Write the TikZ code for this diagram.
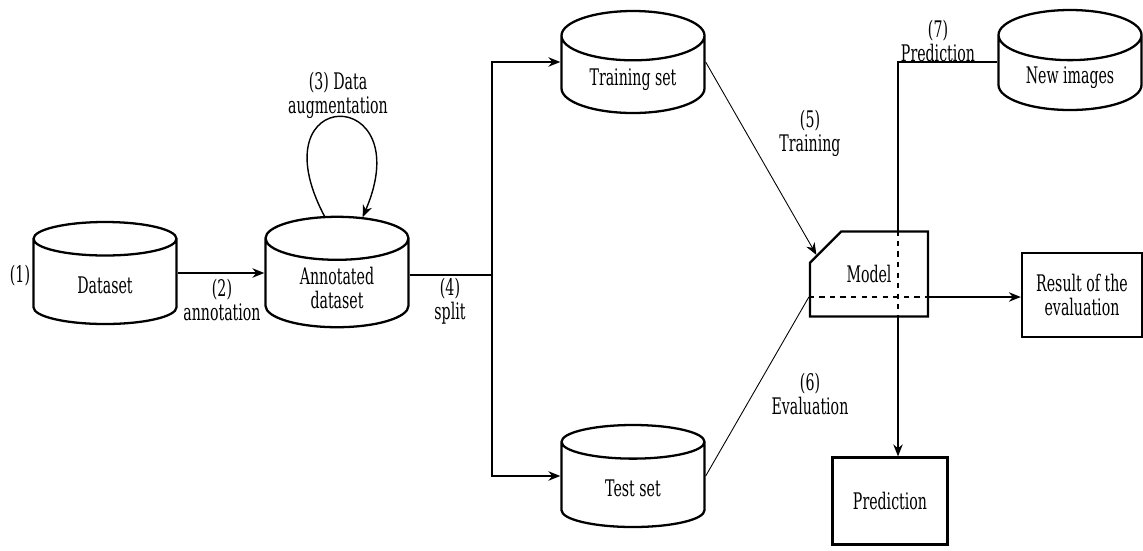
\documentclass[tikz,border=0pt]{standalone}
\usepackage{fontspec}
\setmainfont{DejaVu Serif}[FakeStretch=0.62]
\usetikzlibrary{shapes.geometric,shapes.misc,arrows.meta}

\tikzset{
  db/.style={draw,cylinder,shape border rotate=90,aspect=0.5,line width=1.3pt,minimum width=2.86cm,minimum height=2.04cm,align=center,anchor=shape center},
  box/.style={draw,rectangle,line width=1.3pt,align=center},
  lbl/.style={align=center},
  link/.style={line width=0.8pt},
  thinlink/.style={line width=0.5pt}
}

\begin{document}
\begin{tikzpicture}[x=0.2mm,y=-0.2mm,font=\fontsize{13}{13.6}\selectfont,>={Stealth[length=2.4mm,width=1.9mm]}]
        \useasboundingbox (0,0) rectangle (1143,550);
        \coordinate (c_data) at (105,273);
        \coordinate (c_annot) at (337,272);
        \coordinate (c_train) at (633,62);
        \coordinate (c_test) at (633,476);
        \coordinate (c_new) at (1070,60);
        \coordinate (c_model) at (869,274);
        \coordinate (c_result) at (1082,295);
        \coordinate (c_pred) at (890,501);
        \node[db] (data) at (c_data){Dataset};
        \node[db] (annot) at (c_annot){Annotated\\dataset};
        \node[db] (train) at (c_train){Training set};
        \node[db] (test) at (c_test){Test set};
        \node[db,minimum height=1.94cm] (newimg) at (c_new){New images};
        \node[draw,chamfered rectangle,chamfered rectangle corners=north west,chamfered rectangle xsep=0.46cm,chamfered rectangle ysep=0.6cm,line width=1.3pt,minimum width=2.36cm,minimum height=1.7cm,inner sep=0pt] (model) at (c_model){Model};
        \node[box,minimum width=2.4cm,minimum height=1.68cm] (result) at (c_result){Result of the\\evaluation};
        \node[box,minimum width=2.3cm,minimum height=1.74cm] (pred) at (c_pred){Prediction};
        % helper points
        \coordinate (sp) at (492,275);
        \coordinate (v) at (898,62);
        \coordinate (h) at (869,297);
        % connectors
        \draw[link,->] (data.east |- data.shape center) -- (annot.west |- data.shape center);
        \draw[link,->] (annot.100) .. controls (255,84) and (420,84) .. (annot.70);
        \draw[link] (annot.east |- sp) -- (sp);
        \draw[link,->] (sp) |- (train.west |- train.shape center);
        \draw[link,->] (sp) |- (test.west |- test.shape center);
        \draw[thinlink,->] (train.east |- train.shape center) -- (model.160);
        \draw[thinlink] (test.east |- test.shape center) -- (model.west |- h);
        \draw[link,dashed] (model.west |- h) -- (model.east |- h);
        \draw[link,->] (model.east |- h) -- (result.west |- h);
        \draw[link] (newimg.west |- v) -- (v) -- (model.north -| v);
        \draw[link,dashed] (model.north -| v) -- (model.south -| v);
        \draw[link,->] (model.south -| v) -- (pred.north -| v);
        % labels
        \node[lbl] (l1) at (20,276){(1)};
        \node[lbl] (l2) at (222,300){(2)\\annotation};
        \node[lbl] (l3) at (338,95){(3) Data\\augmentation};
        \node[lbl] (l4) at (450,301){(4)\\split};
        \node[lbl] (l5) at (810,133){(5)\\Training};
        \node[lbl] (l6) at (810,394){(6)\\Evaluation};
        \node[lbl] (l7) at (938,41){(7)\\Prediction};
    \end{tikzpicture}
\end{document}
